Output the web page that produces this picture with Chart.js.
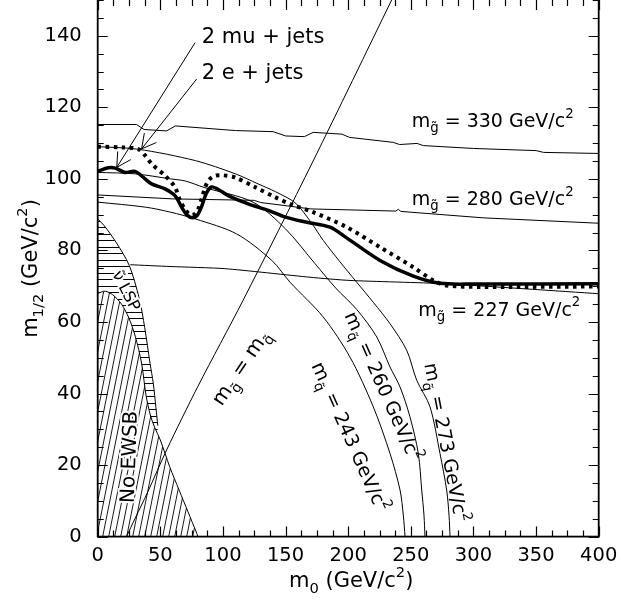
<!DOCTYPE html>
<html><head><meta charset="utf-8">
<script src="https://cdn.jsdelivr.net/npm/chart.js@4.4.0/dist/chart.umd.min.js"></script>
<style>html,body{margin:0;padding:0;background:#fff;}canvas{display:block;}</style>
</head><body>
<canvas id="c" width="621" height="600"></canvas>
<script>
// ---------- data (m0, m1/2) in GeV/c^2 ----------
const xLabelTicks = [0, 50, 100, 150, 200, 250, 300, 350, 400];
const yLabelTicks = [0, 20, 40, 60, 80, 100, 120, 140];
const xMinorStep = 12.5;
const yMinorStep = 5;

const limitMuJets = [[0,102.1],[8.5,103.1],[14,103],[21.8,101.8],[29.8,102.1],[37.8,100],[43,98.6],[53.7,97.2],[61.7,95.3],[67,92.1],[71.5,89.8],[75.7,89.1],[79.5,89.8],[83,92.3],[86.5,95.8],[90.5,97.7],[95,97.3],[104.3,95.3],[120.2,93],[136.2,91.2],[150,89.3],[165,88],[185.5,86.5],[198.8,83.5],[225.4,77.2],[252,72.8],[273.3,70.8],[300,70.6],[400,70.7]];
const limitEJets = [[0,109],[20,108.8],[32.4,108.3],[38,106.5],[43,104.2],[53.7,100.9],[61.7,97.7],[65.7,94],[70,91.3],[74,90],[77.7,90.2],[80.5,91.8],[83,94.4],[86,97.8],[89,99.8],[94,100.9],[100,101],[109.6,100.4],[125.6,97.7],[141.6,94.9],[154.9,92.8],[172,90.7],[198.8,86.5],[225.4,80.9],[252,75.3],[268,71.6],[278.6,70.2],[305,69.8],[400,69.9]];
const gluino330 = [[0,115.2],[31,115.2],[37,113.8],[55,113.4],[62,114.8],[110,113.5],[140,113.2],[150,112],[165,111.8],[172,113],[195,112.5],[201,111.6],[236,110.2],[241,109.6],[255,109.9],[260,109.3],[300,108.5],[350,107.9],[356,107.4],[400,107.1]];
const gluino280 = [[0,95.5],[60,94.4],[125,94],[130,93.4],[170,91.6],[238,91],[240,91.5],[242,90.9],[308,89.1],[400,87.6]];
const gluino227 = [[26,76],[57.7,75.5],[101.6,74.9],[169.5,72.5],[201.4,71.6],[276,70.7],[400,67.9]];
const squark243 = [[0,93.5],[38,92.1],[58,90.7],[78,88.8],[111,84.6],[139,77.2],[153.6,71.1],[180,61.4],[201.4,50.2],[220,36.3],[233.4,23.2],[241.4,13],[244,6],[245.4,0]];
const squark260 = [[0,101.8],[30,101.4],[58,100],[70,99.4],[85,97.6],[124,93.5],[150,86],[173.5,76.3],[190,69.5],[206.8,63.5],[222.8,55.8],[233.4,47.4],[241.4,41.8],[249.3,33.5],[256,23.2],[258.7,13],[260.5,6],[261.3,0]];
const squark273 = [[0,109],[32,108.3],[78,105.1],[110,101.4],[128,98.6],[142,96.4],[158,93.2],[170,88],[180.1,82.8],[193,77],[206.8,71.1],[220,65.5],[233.4,59.5],[246.7,52.1],[254.7,43.7],[265.3,36.3],[273.3,23.2],[278.6,13],[280.5,6],[281.3,0]];
const gluinoEqSquark = [[23,0],[30,5.2],[40,12.5],[55,24.2],[80,42],[116,66],[172,105],[234.7,150]];
const noEwsbEdge = [[0,68],[6,68.6],[12,67.6],[19,65],[25,61],[30,56],[35,48.5],[38.6,39.5],[42,34],[45.5,30.5],[50,27],[57.5,19.5],[65,13],[72,7],[79,1],[80,0]];
const sneutrinoLspEdge = [[0,88.8],[5,87],[14.6,82.3],[25.2,75.8],[33.2,66.5],[37.5,58.5],[41.8,48.4],[44.4,42.8],[46.5,36],[48,31]];
const arrowMu = [[77.8,138.1],[15.2,103.2]];
const arrowE = [[79,127.9],[35.1,108.4]];

const FONT = "'DejaVu Sans'";
const pts = a => a.map(p => ({x: p[0], y: p[1]}));

function makePattern(kind) {
  const c = document.createElement('canvas');
  const g = c.getContext('2d');
  if (kind === 'diag') {
    c.width = 6; c.height = 30;
    g.fillStyle = '#fff'; g.fillRect(0, 0, 6, 30);
    g.strokeStyle = '#000'; g.lineWidth = 0.9;
    for (const o of [-6, 0, 6]) { g.beginPath(); g.moveTo(o, 30); g.lineTo(o + 6, 0); g.stroke(); }
  } else {
    c.width = 8; c.height = 13;
    g.strokeStyle = '#000'; g.lineWidth = 1;
    g.beginPath(); g.moveTo(0, 0.5); g.lineTo(8, 0.5); g.moveTo(0, 6.5); g.lineTo(8, 6.5); g.stroke();
  }
  return g.createPattern(c, 'repeat');
}

function thin(data, tension) {
  return {data: pts(data), borderColor: '#000', borderWidth: 1, pointRadius: 0, tension: tension, fill: false};
}

// ---------- rich text ----------
function drawRich(ctx, segs, o) {
  ctx.save();
  ctx.translate(o.x, o.y);
  ctx.rotate((o.angle || 0) * Math.PI / 180);
  const s = o.size;
  let total = 0;
  for (const g of segs) {
    const fs = g.k ? s * 0.7 : s;
    ctx.font = fs + 'px ' + FONT;
    g.w = ctx.measureText(g.t).width;
    total += g.w;
  }
  let cx = o.align === 'center' ? -total / 2 : 0;
  const by = o.middle ? s * 0.36 : 0;
  ctx.textBaseline = 'alphabetic';
  ctx.textAlign = 'left';
  for (const g of segs) {
    const fs = g.k ? s * 0.7 : s;
    ctx.font = fs + 'px ' + FONT;
    const dy = g.k === 'sub' ? s * 0.3 : g.k === 'sup' ? -s * 0.48 : 0;
    if (o.halo) { ctx.strokeStyle = '#fff'; ctx.lineWidth = 4; ctx.lineJoin = 'round'; ctx.strokeText(g.t, cx, by + dy); }
    ctx.fillStyle = '#000';
    ctx.fillText(g.t, cx, by + dy);
    cx += g.w;
  }
  ctx.restore();
}

const annotations = [
  {segs: [{t: '2 mu + jets'}], at: [83, 138.1], size: 21},
  {segs: [{t: '2 e + jets'}], at: [83, 127.9], size: 21},
  {segs: [{t: 'm'}, {t: 'g\u0303', k: 'sub'}, {t: ' = 330 GeV/c'}, {t: '2', k: 'sup'}], at: [250.7, 114.6], size: 19},
  {segs: [{t: 'm'}, {t: 'g\u0303', k: 'sub'}, {t: ' = 280 GeV/c'}, {t: '2', k: 'sup'}], at: [250.7, 92.8], size: 19},
  {segs: [{t: 'm'}, {t: 'g\u0303', k: 'sub'}, {t: ' = 227 GeV/c'}, {t: '2', k: 'sup'}], at: [256, 61.8], size: 19},
  {segs: [{t: 'm'}, {t: 'q\u0303', k: 'sub'}, {t: ' = 260 GeV/c'}, {t: '2', k: 'sup'}], at: [228.2, 42], size: 19, angle: 66, align: 'center', middle: true},
  {segs: [{t: 'm'}, {t: 'q\u0303', k: 'sub'}, {t: ' = 243 GeV/c'}, {t: '2', k: 'sup'}], at: [201.8, 27.9], size: 19, angle: 66, align: 'center', middle: true},
  {segs: [{t: 'm'}, {t: 'q\u0303', k: 'sub'}, {t: ' = 273 GeV/c'}, {t: '2', k: 'sup'}], at: [278.5, 26.3], size: 19, angle: 79, align: 'center', middle: true},
  {segs: [{t: 'm'}, {t: 'g\u0303', k: 'sub'}, {t: ' = m'}, {t: 'q\u0303', k: 'sub'}], at: [113.6, 47.4], size: 20, angle: -56, align: 'center', middle: true},
  {segs: [{t: 'No EWSB'}], at: [24.4, 22.3], size: 20, angle: -88, align: 'center', middle: true, halo: true},
  {segs: [{t: '\u03bd\u0303 LSP'}], at: [23.2, 68.8], size: 16, angle: 63, align: 'center', middle: true, halo: true}
];

const framePlugin = {
  id: 'frame',
  afterDatasetsDraw(chart) {
    const ctx = chart.ctx, a = chart.chartArea;
    const xs = chart.scales.x, ys = chart.scales.y;
    ctx.save();
    ctx.strokeStyle = '#000';
    // tick marks (inward)
    ctx.lineWidth = 1.2;
    ctx.beginPath();
    for (let v = 0; v <= 400 + 1e-6; v += xMinorStep) {
      const px = Math.round(xs.getPixelForValue(v)) + 0.5;
      const len = xLabelTicks.includes(v) ? 10 : 6;
      ctx.moveTo(px, a.bottom); ctx.lineTo(px, a.bottom - len);
      ctx.moveTo(px, a.top); ctx.lineTo(px, a.top + len);
    }
    for (let v = 0; v <= 150 + 1e-6; v += yMinorStep) {
      const py = Math.round(ys.getPixelForValue(v)) + 0.5;
      const len = yLabelTicks.includes(v) ? 10 : 6;
      ctx.moveTo(a.left, py); ctx.lineTo(a.left + len, py);
      ctx.moveTo(a.right, py); ctx.lineTo(a.right - len, py);
    }
    ctx.stroke();
    // frame
    ctx.lineWidth = 1.8;
    ctx.strokeRect(a.left, a.top - 1.5, a.right - a.left, a.bottom - a.top + 1.5);
    // arrow heads
    ctx.lineWidth = 1;
    for (const ar of [arrowMu, arrowE]) {
      const sx = xs.getPixelForValue(ar[0][0]), sy = ys.getPixelForValue(ar[0][1]);
      const tx = xs.getPixelForValue(ar[1][0]), ty = ys.getPixelForValue(ar[1][1]);
      const ang = Math.atan2(sy - ty, sx - tx);
      ctx.beginPath();
      for (const d of [-0.5, 0.5]) {
        ctx.moveTo(tx, ty);
        ctx.lineTo(tx + 16 * Math.cos(ang + d), ty + 16 * Math.sin(ang + d));
      }
      ctx.stroke();
    }
    ctx.restore();
    // annotations
    for (const an of annotations) {
      drawRich(ctx, an.segs, {
        x: xs.getPixelForValue(an.at[0]), y: ys.getPixelForValue(an.at[1]),
        size: an.size, angle: an.angle || 0, align: an.align || 'left', middle: an.middle, halo: an.halo
      });
    }
    // axis titles
    drawRich(ctx, [{t: 'm'}, {t: '0', k: 'sub'}, {t: ' (GeV/c'}, {t: '2', k: 'sup'}, {t: ')'}],
      {x: (a.left + a.right) / 2 + 3, y: 587, size: 21, align: 'center'});
    drawRich(ctx, [{t: 'm'}, {t: '1/2', k: 'sub'}, {t: ' (GeV/c'}, {t: '2', k: 'sup'}, {t: ')'}],
      {x: 37, y: 268.5, size: 21, angle: -90, align: 'center'});
  }
};

Chart.defaults.font.family = FONT;
Chart.defaults.color = '#000';

new Chart(document.getElementById('c'), {
  type: 'line',
  data: {
    datasets: [
      {data: pts(limitMuJets), borderColor: '#000', borderWidth: 3.5, pointRadius: 0, tension: 0.3, fill: false},
      {data: pts(limitEJets), borderColor: '#000', borderWidth: 4, borderDash: [3.5, 4.5], pointRadius: 0, tension: 0.3, fill: false},
      thin(gluino330, 0),
      thin(gluino280, 0),
      thin(gluino227, 0.2),
      thin(squark243, 0.3),
      thin(squark260, 0.3),
      thin(squark273, 0.3),
      thin(gluinoEqSquark, 0.3),
      thin(arrowMu, 0),
      thin(arrowE, 0),
      {data: pts(noEwsbEdge), borderColor: '#000', borderWidth: 1, pointRadius: 0, tension: 0.3, fill: 'origin', backgroundColor: makePattern('diag')},
      {data: pts(sneutrinoLspEdge), borderColor: '#000', borderWidth: 1, pointRadius: 0, tension: 0.3, fill: 'origin', backgroundColor: makePattern('horiz')}
    ]
  },
  options: {
    responsive: false,
    animation: false,
    events: [],
    layout: {padding: {left: 0, right: 22.3, top: 0, bottom: 0}},
    plugins: {legend: {display: false}, tooltip: {enabled: false}},
    scales: {
      x: {
        type: 'linear', min: 0, max: 400,
        grid: {display: false, drawTicks: false},
        border: {display: false},
        ticks: {stepSize: xMinorStep, autoSkip: false, maxRotation: 0, minRotation: 0, padding: 8,
          font: {size: 19.5}, color: '#000',
          callback: v => xLabelTicks.includes(v) ? String(v) : ''},
        afterFit(s) { s.height = 63.4; s.paddingLeft = 0; s.paddingRight = 0; }
      },
      y: {
        type: 'linear', min: 0, max: 150,
        grid: {display: false, drawTicks: false},
        border: {display: false},
        ticks: {stepSize: yMinorStep, autoSkip: false, padding: 16,
          font: {size: 19.5}, color: '#000',
          callback: v => yLabelTicks.includes(v) ? String(v) : ''},
        afterFit(s) { s.width = 97.7; s.paddingTop = 0; s.paddingBottom = 0; }
      }
    }
  },
  plugins: [framePlugin]
});
</script>
</body></html>
